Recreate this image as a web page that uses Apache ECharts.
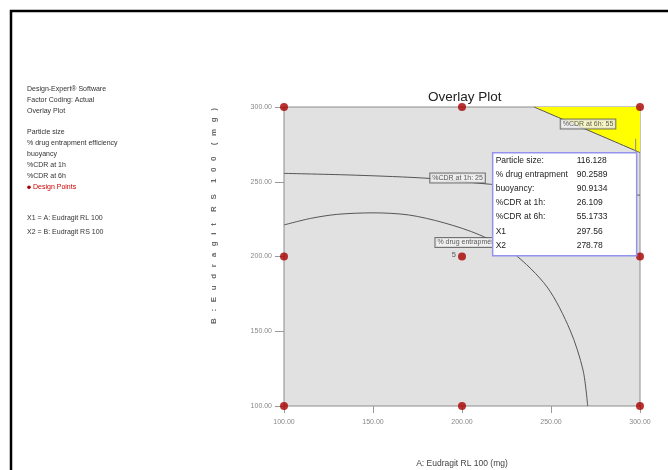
<!DOCTYPE html>
<html>
<head>
<meta charset="utf-8">
<script src="https://cdn.jsdelivr.net/npm/echarts@6/dist/echarts.min.js"></script>
<style>
  html, body { margin: 0; padding: 0; background: #fff; }
  #chart { width: 668px; height: 470px; }
</style>
</head>
<body>
<div id="chart"></div>
<script>
// Factor ranges (mg) and axis ticks
const xTicks = [100, 150, 200, 250, 300];
const yTicks = [100, 150, 200, 250, 300];

// Design points of the 3x3 factorial design (X1, X2)
const designPoints = [
  [100, 100], [100, 200], [100, 300],
  [200, 100], [200, 200], [200, 300],
  [300, 100], [300, 200], [300, 300]
];
const centerRuns = '5';

// Contour: % drug entrapment efficiency
const entrapmentContour = [
  [100, 221.1], [115, 225.5], [130, 228.2], [150, 229.2], [170, 227.8],
  [190, 222.5], [210, 214.4], [228.7, 202.3], [247.8, 179.6],
  [260.7, 150.8], [268, 124], [270.6, 100]
];
// Contour: %CDR at 1h = 25
const cdr1hContour = [
  [100, 255.6], [140, 254.4], [182, 252.2], [216, 248.3], [260, 244.5], [300, 241]
];
// Contour: %CDR at 6h = 55 (bounds the feasible region)
const cdr6hContour = [[240.5, 300], [300, 269.5]];
const feasibleRegion = [[240.5, 300], [300, 300], [300, 269.5]];

// Contour label texts and anchor points
const contourLabelTexts = ['%CDR at 6h: 55', '%CDR at 1h: 25', '% drug entrapment: 90'];
const contourLabelAnchors = [[270.8, 288.6], [197.5, 252.5], [206.2, 209.4]];

// Flag at the selected point
const flagPoint = [297.56, 278.78];
const flagNames = ['Particle size:', '% drug entrapment', 'buoyancy:', '%CDR at 1h:', '%CDR at 6h:', 'X1', 'X2'];
const flagValues = ['116.128', '90.2589', '90.9134', '26.109', '55.1733', '297.56', '278.78'];

// Side panel text
const infoLines = ['Design-Expert® Software', 'Factor Coding: Actual', 'Overlay Plot'];
const responseLines = ['Particle size', '% drug entrapment efficiency', 'buoyancy', '%CDR at 1h', '%CDR at 6h'];
const factorLines = ['X1 = A: Eudragit RL 100', 'X2 = B: Eudragit RS 100'];

const chart = echarts.init(document.getElementById('chart'), null, { renderer: 'canvas' });
const FONT = 'Liberation Sans, Arial, sans-serif';
const yName = 'B   :   E   u   d   r   a   g   i   t     R   S     1   0   0     (   m   g   )';

const contourLine = (name, data) => ({
  name, type: 'line', data, smooth: 0.3, showSymbol: false, silent: true,
  lineStyle: { color: '#555', width: 1 }, z: 3
});

chart.setOption({
  animation: false,
  title: {
    text: 'Overlay Plot', left: 423, top: 85,
    textStyle: { fontFamily: FONT, fontSize: 13.5, fontWeight: 'normal', color: '#222' }
  },
  grid: {
    left: 284, top: 107, width: 356, height: 299,
    containLabel: false, outerBoundsMode: 'none',
    show: true, backgroundColor: '#e1e1e1', borderColor: '#8c8c8c', borderWidth: 1
  },
  xAxis: {
    type: 'value', min: xTicks[0], max: xTicks[xTicks.length - 1], interval: 50,
    name: 'A: Eudragit RL 100 (mg)', nameLocation: 'middle', nameGap: 53,
    nameTextStyle: { fontFamily: FONT, fontSize: 8.5, color: '#444' },
    axisLine: { show: false },
    axisTick: { show: true, length: 7, lineStyle: { color: '#999' } },
    axisLabel: { formatter: v => v.toFixed(2), fontFamily: FONT, fontSize: 7, color: '#888', margin: 13 },
    splitLine: { show: false }
  },
  yAxis: {
    type: 'value', min: yTicks[0], max: yTicks[yTicks.length - 1], interval: 50,
    axisLine: { show: false },
    axisTick: { show: true, length: 9, lineStyle: { color: '#999' } },
    axisLabel: { formatter: v => v.toFixed(2), fontFamily: FONT, fontSize: 7, color: '#888', margin: 12 },
    splitLine: { show: false }
  },
  series: [
    {
      name: 'feasible', type: 'custom', silent: true, z: 2,
      renderItem: (params, api) => ({
        type: 'polygon',
        shape: { points: feasibleRegion.map(p => api.coord(p)) },
        style: { fill: '#ffff00', stroke: 'none' }
      }),
      data: [0]
    },
    contourLine('%CDR at 6h', cdr6hContour),
    contourLine('%CDR at 1h', cdr1hContour),
    contourLine('% drug entrapment efficiency', entrapmentContour),
    {
      name: 'flag pointer', type: 'line', showSymbol: false, silent: true, z: 4,
      data: [flagPoint, [flagPoint[0], 270]],
      lineStyle: { color: '#8a8ab0', width: 1 }
    },
    {
      name: 'contour labels', type: 'scatter', symbolSize: 0, silent: true, z: 5,
      data: contourLabelAnchors.map((p, i) => ({ value: p, name: contourLabelTexts[i] })),
      label: {
        show: true, position: 'inside', formatter: '{b}',
        fontFamily: FONT, fontSize: 7, color: '#333',
        backgroundColor: '#f2f2f2', borderColor: '#555', borderWidth: 1, padding: [1, 2]
      }
    },
    {
      name: 'Design Points', type: 'scatter', symbolSize: 8, clip: false, z: 8,
      itemStyle: { color: '#a80000' },
      data: designPoints.map(p => (p[0] === 200 && p[1] === 200)
        ? { value: p, label: { show: true, formatter: centerRuns, position: 'left', distance: 2,
            fontFamily: FONT, fontSize: 7.5, color: '#333', offset: [0, -2] } }
        : { value: p })
    }
  ]
});

// Flag box anchored at the selected point, drawn on its own layer above the plot
const anchor = chart.convertToPixel({ gridIndex: 0 }, flagPoint);
const boxW = 144, boxH = 103;
const boxX = anchor[0] + 1 - boxW, boxY = anchor[1] + 14;
const flagChildren = [{
  type: 'rect', zlevel: 1, z: 100, shape: { x: boxX, y: boxY, width: boxW, height: boxH },
  style: { fill: '#fff', stroke: '#9494ee', lineWidth: 1.5 }
}];
flagNames.forEach((n, i) => {
  const ty = boxY + 7.5 + i * 14.2;
  flagChildren.push({ type: 'text', zlevel: 1, z: 101, x: boxX + 3, y: ty,
    style: { text: n, font: '8.5px ' + FONT, fill: '#222', textVerticalAlign: 'middle' } });
  flagChildren.push({ type: 'text', zlevel: 1, z: 101, x: boxX + 84, y: ty,
    style: { text: flagValues[i], font: '8.5px ' + FONT, fill: '#222', textVerticalAlign: 'middle' } });
});

// Side panel
const panel = [];
const addLine = (t, y, color, x) => panel.push({ type: 'text', x: x || 27, y,
  style: { text: t, font: '7px ' + FONT, fill: color || '#333', textVerticalAlign: 'middle' } });
infoLines.forEach((t, i) => addLine(t, 89 + i * 10.8));
responseLines.forEach((t, i) => addLine(t, 132.5 + i * 10.9));
addLine('Design Points', 187.3, '#cc0000', 33);
panel.push({ type: 'circle', shape: { cx: 29, cy: 187.3, r: 1.8 }, style: { fill: '#a80000' } });
factorLines.forEach((t, i) => addLine(t, 218.3 + i * 13.4));

// Vertical factor B title
panel.push({ type: 'text', x: 214, y: 216, rotation: Math.PI / 2,
  style: { text: yName, font: 'bold 8px ' + FONT, fill: '#666', textAlign: 'center', textVerticalAlign: 'middle' } });

chart.setOption({
  graphic: flagChildren.concat(panel, [
    { type: 'rect', z: 100, shape: { x: 11, y: 11, width: 700, height: 500 },
      style: { fill: 'none', stroke: '#000', lineWidth: 2.5 } }
  ])
});
</script>
</body>
</html>
